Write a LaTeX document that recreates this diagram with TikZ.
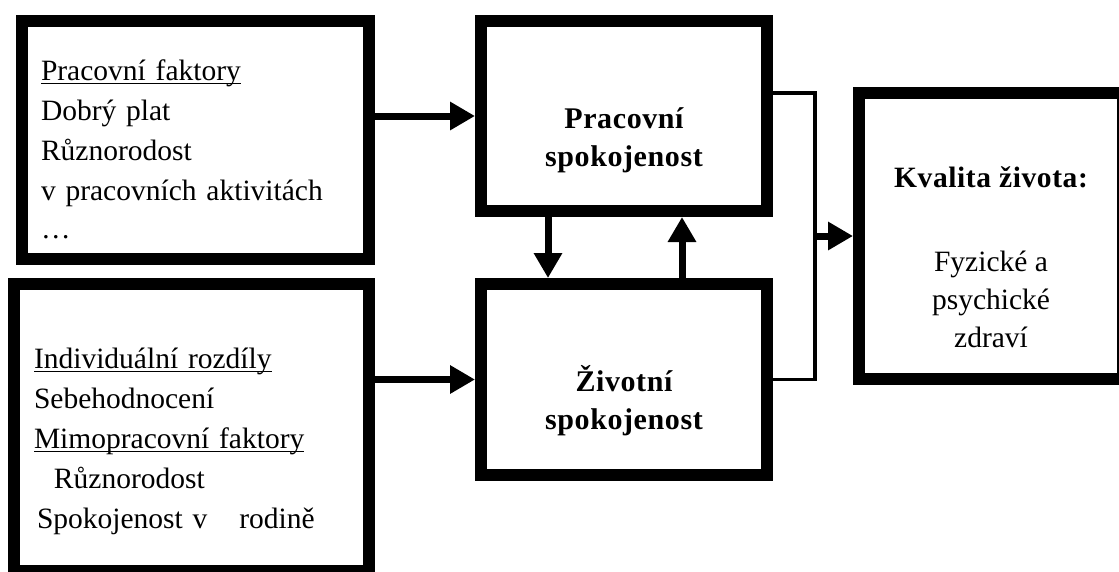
\documentclass[tikz,border=0pt]{standalone}
\usepackage{fontspec}
\usepackage{amsmath}
\setmainfont{Liberation Serif}[BoldFeatures={LetterSpace=2}]
\usetikzlibrary{arrows.meta,positioning,calc}

\newcommand{\ulined}[1]{\underline{\smash[b]{#1}}}

\begin{document}
\begin{tikzpicture}[x=1pt, y=-1pt,
    box/.style={rectangle, draw=black, fill=white, line width=12pt,
                inner sep=0pt, font=\fontsize{29.5}{40}\selectfont},
    listbox/.style={box, align=left},
    mainbox/.style={box, align=center, minimum width=286pt,
                    text height=106pt, text depth=6pt,
                    font=\fontsize{30}{38}\selectfont\bfseries},
    arr/.style={-{Triangle[length=25pt,width=27pt]}, line width=7pt},
    link/.style={line width=3.5pt}
  ]
  \useasboundingbox (0,0) rectangle (1119,571);
  \clip (0,0) rectangle (1119,571);

  % left column
  \node[listbox, text width=309pt, inner xsep=19pt, minimum height=238pt,
        text depth=140pt]
    (fakt) at (195.5,140) {\ulined{Pracovní faktory}\\
                           Dobrý plat\\
                           Různorodost\\
                           v pracovních aktivitách\\[-2pt]
                           …};
  \node[listbox, text width=315pt, inner xsep=20pt, minimum height=287pt,
        text depth=139pt]
    (indiv) at (191.5,427.5) {\ulined{Individuální rozdíly}\\
                              Sebehodnocení\\
                              \ulined{Mimopracovní faktory}\\
                              \hspace*{20pt}Různorodost\\
                              \hspace*{3pt}Spokojenost v\hspace{22pt} rodině};

  % middle column
  \node[mainbox, minimum height=190pt] (prac) at (624,116) {Pracovní\\spokojenost};
  \node[mainbox, minimum height=191pt] (ziv) at (624,379.5) {Životní\\spokojenost};

  % right box
  \node[box, align=center, minimum width=264pt, minimum height=286pt,
        text height=222pt, text depth=0pt, font=\fontsize{29.5}{38}\selectfont]
    (kval) at (991,236) {{\bfseries Kvalita života:}\\[46pt]
                         Fyzické a\\psychické\\zdraví};

  \draw[arr] (prac.west -| fakt.east) -- (prac.west);
  \draw[arr] (ziv.west -| indiv.east) -- (ziv.west);
  \draw[arr] ([xshift=-76pt]prac.south) -- ([xshift=-76pt]ziv.north);
  \draw[arr] ([xshift=58pt]ziv.north) -- ([xshift=58pt]prac.south);

  \coordinate (join) at (815,236);
  \draw[link] ([yshift=23pt]prac.east) -| (join) |- (ziv.east);
  \draw[arr] (join) -- (kval.west);
\end{tikzpicture}
\end{document}
